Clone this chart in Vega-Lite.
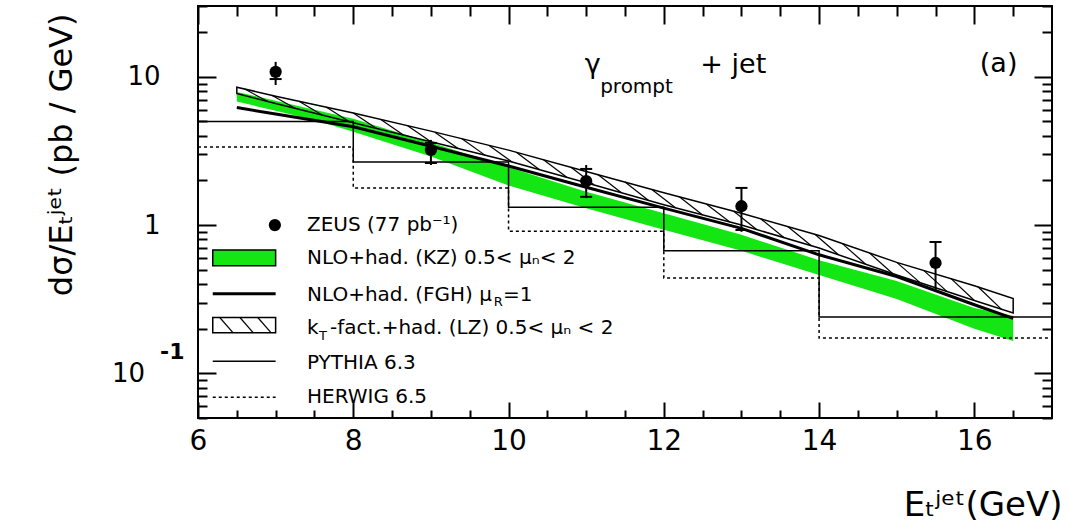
{
  "$schema": "https://vega.github.io/schema/vega-lite/v6.json",
  "width": 854,
  "height": 412,
  "autosize": {"type": "none"},
  "padding": {"left": 198, "top": 6, "right": 17, "bottom": 112},
  "background": "white",
  "config": {
    "font": "DejaVu Sans",
    "view": {"stroke": "black", "strokeWidth": 2},
    "axis": {"domain": false, "grid": false, "ticks": true, "tickOpacity": 1, "tickColor": "black", "tickWidth": 2, "labelColor": "black", "titleColor": "black", "labelFont": "DejaVu Sans", "titleFont": "DejaVu Sans", "titleFontWeight": "normal", "labelOverlap": false, "labelFlush": false, "zindex": 1}
  },
  "resolve": {"axis": {"x": "independent", "y": "independent"}},
  "encoding": {
    "x": {"field": "x", "type": "quantitative", "scale": {"domain": [6, 17], "nice": false, "zero": false}, "axis": null},
    "y": {"field": "y", "type": "quantitative", "scale": {"type": "log", "domain": [0.05, 30], "nice": false}, "axis": null}
  },
  "layer": [
    {
      "data": {"values": [
        {"x": 6.5, "y": 6.8, "y2": 7.9}, {"x": 7.0, "y": 5.9, "y2": 6.9}, {"x": 7.5, "y": 5.1, "y2": 6.0},
        {"x": 8.0, "y": 4.25, "y2": 5.2}, {"x": 9.0, "y": 2.9, "y2": 3.6}, {"x": 10.0, "y": 1.85, "y2": 2.45},
        {"x": 11.0, "y": 1.3, "y2": 1.68}, {"x": 12.0, "y": 0.93, "y2": 1.2}, {"x": 13.0, "y": 0.67, "y2": 0.86},
        {"x": 14.0, "y": 0.46, "y2": 0.58}, {"x": 15.0, "y": 0.317, "y2": 0.42}, {"x": 16.0, "y": 0.2, "y2": 0.276},
        {"x": 16.5, "y": 0.165, "y2": 0.245}
      ]},
      "mark": {"type": "area", "color": "#14e614", "opacity": 1},
      "encoding": {
        "x": {"field": "x", "type": "quantitative", "scale": {"domain": [6, 17], "nice": false, "zero": false},
          "axis": {"orient": "bottom", "offset": 0, "tickSize": -16, "tickColor": "#000000", "tickWidth": 2, "tickOpacity": 1, "values": [6, 8, 10, 12, 14, 16],
            "labelExpr": "'' + datum.value", "labelFontSize": 28, "labelPadding": 25,
            "title": "Eₜʲᵉᵗ(GeV)", "titleFontSize": 34, "titleX": 864, "titleY": 97, "titleAlign": "right", "titleBaseline": "alphabetic"}},
        "y": {"field": "y", "type": "quantitative", "scale": {"type": "log", "domain": [0.05, 30], "nice": false},
          "axis": {"orient": "left", "offset": 0, "tickSize": -18, "tickColor": "#000000", "tickWidth": 2, "tickOpacity": 1, "values": [0.1, 1, 10],
            "labelExpr": "datum.value == 0.1 ? '' : (datum.value == 1 ? '1' : '10')",
            "labelFontSize": 26, "labelPadding": 56,
            "title": "dσ/Eₜʲᵉᵗ (pb / GeV)", "titleFontSize": 32, "titleX": -120, "titleY": 7, "titleAlign": "right", "titleBaseline": "bottom", "titleAngle": -90}},
        "y2": {"field": "y2"}
      }
    },
    {
      "data": {"values": [
        {"x": 6.5, "y": 7.7, "y2": 8.5}, {"x": 7, "y": 6.6, "y2": 7.4}, {"x": 8, "y": 4.9, "y2": 5.7},
        {"x": 9, "y": 3.65, "y2": 4.3}, {"x": 10, "y": 2.7, "y2": 3.2}, {"x": 11, "y": 1.93, "y2": 2.3},
        {"x": 12, "y": 1.37, "y2": 1.65}, {"x": 13, "y": 1.0, "y2": 1.2}, {"x": 14, "y": 0.7, "y2": 0.85},
        {"x": 15, "y": 0.46, "y2": 0.56}, {"x": 16, "y": 0.31, "y2": 0.39}, {"x": 16.5, "y": 0.255, "y2": 0.32}
      ]},
      "mark": {"type": "area", "fill": "white", "fillOpacity": 0, "stroke": "black", "strokeWidth": 1.5},
      "encoding": {
        "x": {"field": "x", "type": "quantitative", "scale": {"domain": [6, 17], "nice": false, "zero": false},
          "axis": {"orient": "top", "offset": 0, "tickSize": -18, "tickColor": "#000000", "tickWidth": 2, "tickOpacity": 1, "values": [6, 8, 10, 12, 14, 16], "labels": false, "title": null}},
        "y": {"field": "y", "type": "quantitative", "scale": {"type": "log", "domain": [0.05, 30], "nice": false},
          "axis": {"orient": "right", "offset": 0, "tickSize": -18, "tickColor": "#000000", "tickWidth": 2, "tickOpacity": 1, "values": [0.1, 1, 10], "labels": false, "title": null}},
        "y2": {"field": "y2"}
      }
    },
    {
      "data": {"values": [
        {"x": 6.6, "y": 8.26, "x2": 6.9, "y2": 6.81}, {"x": 6.95, "y": 7.5, "x2": 7.25, "y2": 6.13},
        {"x": 7.3, "y": 6.84, "x2": 7.6, "y2": 5.52}, {"x": 7.65, "y": 6.25, "x2": 7.95, "y2": 4.97},
        {"x": 8.0, "y": 5.7, "x2": 8.3, "y2": 4.48}, {"x": 8.35, "y": 5.16, "x2": 8.65, "y2": 4.04},
        {"x": 8.7, "y": 4.68, "x2": 9.0, "y2": 3.65}, {"x": 9.05, "y": 4.23, "x2": 9.35, "y2": 3.28},
        {"x": 9.4, "y": 3.82, "x2": 9.7, "y2": 2.95}, {"x": 9.75, "y": 3.44, "x2": 10.05, "y2": 2.65},
        {"x": 10.1, "y": 3.1, "x2": 10.4, "y2": 2.36}, {"x": 10.45, "y": 2.76, "x2": 10.75, "y2": 2.1},
        {"x": 10.8, "y": 2.46, "x2": 11.1, "y2": 1.87}, {"x": 11.15, "y": 2.19, "x2": 11.45, "y2": 1.66},
        {"x": 11.5, "y": 1.95, "x2": 11.8, "y2": 1.47}, {"x": 11.85, "y": 1.73, "x2": 12.15, "y2": 1.31},
        {"x": 12.2, "y": 1.55, "x2": 12.5, "y2": 1.17}, {"x": 12.55, "y": 1.38, "x2": 12.85, "y2": 1.05},
        {"x": 12.9, "y": 1.24, "x2": 13.2, "y2": 0.931}, {"x": 13.25, "y": 1.1, "x2": 13.55, "y2": 0.822},
        {"x": 13.6, "y": 0.975, "x2": 13.9, "y2": 0.725}, {"x": 13.95, "y": 0.864, "x2": 14.25, "y2": 0.63},
        {"x": 14.3, "y": 0.75, "x2": 14.6, "y2": 0.544}, {"x": 14.65, "y": 0.648, "x2": 14.95, "y2": 0.47},
        {"x": 15.0, "y": 0.56, "x2": 15.3, "y2": 0.409}, {"x": 15.35, "y": 0.493, "x2": 15.65, "y2": 0.356},
        {"x": 15.7, "y": 0.435, "x2": 16.0, "y2": 0.31}, {"x": 16.05, "y": 0.382, "x2": 16.35, "y2": 0.27},
        {"x": 6.28, "y": 0.238, "x2": 6.45, "y2": 0.188}, {"x": 6.54, "y": 0.238, "x2": 6.71, "y2": 0.188},
        {"x": 6.77, "y": 0.238, "x2": 6.94, "y2": 0.188}
      ]},
      "mark": {"type": "rule", "color": "black", "strokeWidth": 1.2},
      "encoding": {
        "x": {"field": "x", "type": "quantitative", "scale": {"domain": [6, 17], "nice": false, "zero": false},
          "axis": {"orient": "bottom", "offset": 0, "tickSize": -8, "tickColor": "#000000", "tickWidth": 2, "tickOpacity": 1, "values": [6.5, 7, 7.5, 8.5, 9, 9.5, 10.5, 11, 11.5, 12.5, 13, 13.5, 14.5, 15, 15.5, 16.5], "labels": false, "title": null}},
        "y": {"field": "y", "type": "quantitative", "scale": {"type": "log", "domain": [0.05, 30], "nice": false},
          "axis": {"orient": "left", "offset": 0, "tickSize": -9, "tickColor": "#000000", "tickWidth": 2, "tickOpacity": 1, "values": [0.05, 0.06, 0.07, 0.08, 0.09, 0.2, 0.3, 0.4, 0.5, 0.6, 0.7, 0.8, 0.9, 2, 3, 4, 5, 6, 7, 8, 9, 20, 30], "labels": false, "title": null}},
        "x2": {"field": "x2"},
        "y2": {"field": "y2"}
      }
    },
    {
      "data": {"values": [
        {"x": 6.5, "y": 6.2}, {"x": 7, "y": 5.6}, {"x": 8, "y": 4.6}, {"x": 9, "y": 3.4}, {"x": 10, "y": 2.5},
        {"x": 11, "y": 1.8}, {"x": 12, "y": 1.3}, {"x": 13, "y": 0.95}, {"x": 14, "y": 0.63}, {"x": 15, "y": 0.45},
        {"x": 16, "y": 0.29}, {"x": 16.5, "y": 0.235}
      ]},
      "mark": {"type": "line", "color": "black", "strokeWidth": 3},
      "encoding": {
        "x": {"field": "x", "type": "quantitative", "scale": {"domain": [6, 17], "nice": false, "zero": false},
          "axis": {"orient": "top", "offset": 0, "tickSize": -10, "tickColor": "#000000", "tickWidth": 2, "tickOpacity": 1, "values": [6.5, 7, 7.5, 8.5, 9, 9.5, 10.5, 11, 11.5, 12.5, 13, 13.5, 14.5, 15, 15.5, 16.5], "labels": false, "title": null}},
        "y": {"field": "y", "type": "quantitative", "scale": {"type": "log", "domain": [0.05, 30], "nice": false},
          "axis": {"orient": "right", "offset": 0, "tickSize": -10, "tickColor": "#000000", "tickWidth": 2, "tickOpacity": 1, "values": [0.05, 0.06, 0.07, 0.08, 0.09, 0.2, 0.3, 0.4, 0.5, 0.6, 0.7, 0.8, 0.9, 2, 3, 4, 5, 6, 7, 8, 9, 20, 30], "labels": false, "title": null}}
      }
    },
    {
      "data": {"values": [
        {"x": 6, "y": 5.0}, {"x": 8, "y": 2.66}, {"x": 10, "y": 1.32}, {"x": 12, "y": 0.67}, {"x": 14, "y": 0.24}, {"x": 17, "y": 0.24}
      ]},
      "mark": {"type": "line", "color": "black", "strokeWidth": 1.5, "interpolate": "step-after"}
    },
    {
      "data": {"values": [
        {"x": 6, "y": 3.36}, {"x": 8, "y": 1.78}, {"x": 10, "y": 0.91}, {"x": 12, "y": 0.44}, {"x": 14, "y": 0.173}, {"x": 17, "y": 0.173}
      ]},
      "mark": {"type": "line", "color": "black", "strokeWidth": 1.5, "strokeDash": [3, 3], "interpolate": "step-after"}
    },
    {
      "data": {"values": [
        {"x": 7, "y": 10.8, "lo": 8.8, "hi": 12.6}, {"x": 9, "y": 3.21, "lo": 2.54, "hi": 3.75},
        {"x": 11, "y": 1.98, "lo": 1.52, "hi": 2.54}, {"x": 13, "y": 1.34, "lo": 0.9, "hi": 1.78},
        {"x": 15.5, "y": 0.555, "lo": 0.365, "hi": 0.769}
      ]},
      "layer": [
        {"mark": {"type": "rule", "color": "black", "strokeWidth": 2}, "encoding": {"y": {"field": "lo", "type": "quantitative"}, "y2": {"field": "hi"}}},
        {"mark": {"type": "point", "filled": true, "color": "black", "opacity": 1, "size": 150, "shape": "circle"}}
      ]
    },
    {
      "data": {"values": [
        {"x": 7, "y": 9.65}, {"x": 9, "y": 3.58}, {"x": 9, "y": 2.62}, {"x": 11, "y": 2.39}, {"x": 11, "y": 1.55},
        {"x": 13, "y": 1.78}, {"x": 13, "y": 0.926}, {"x": 15.5, "y": 0.769}
      ]},
      "mark": {"type": "tick", "orient": "horizontal", "color": "black", "size": 12, "thickness": 2, "opacity": 1}
    },
    {
      "data": {"values": [{"x": 6.99, "y": 1.0}]},
      "mark": {"type": "point", "filled": true, "color": "black", "opacity": 1, "size": 150, "shape": "circle"}
    },
    {
      "data": {"values": [{"x": 6.19, "x2": 7.0, "y": 0.531, "y2": 0.679}]},
      "mark": {"type": "rect", "fill": "#14e614", "stroke": "black", "strokeWidth": 1.5},
      "encoding": {"x2": {"field": "x2"}, "y2": {"field": "y2"}}
    },
    {
      "data": {"values": [{"x": 6.19, "x2": 7.0, "y": 0.188, "y2": 0.238}]},
      "mark": {"type": "rect", "fill": "white", "fillOpacity": 0, "stroke": "black", "strokeWidth": 1.5},
      "encoding": {"x2": {"field": "x2"}, "y2": {"field": "y2"}}
    },
    {
      "data": {"values": [{"x": 6.19, "x2": 7.0, "y": 0.344}]},
      "mark": {"type": "rule", "color": "black", "strokeWidth": 3},
      "encoding": {"x2": {"field": "x2"}}
    },
    {
      "data": {"values": [{"x": 6.19, "x2": 7.0, "y": 0.1205}]},
      "mark": {"type": "rule", "color": "black", "strokeWidth": 1.5},
      "encoding": {"x2": {"field": "x2"}}
    },
    {
      "data": {"values": [{"x": 6.19, "x2": 7.0, "y": 0.069}]},
      "mark": {"type": "rule", "color": "black", "strokeWidth": 1.5, "strokeDash": [3, 3]},
      "encoding": {"x2": {"field": "x2"}}
    },
    {
      "data": {"values": [
        {"x": 7.404, "y": 1.0, "t": "ZEUS (77 pb⁻¹)"},
        {"x": 7.404, "y": 0.6, "t": "NLO+had. (KZ) 0.5< μₙ< 2"},
        {"x": 7.404, "y": 0.337, "t": "NLO+had. (FGH)  μ"},
        {"x": 9.93, "y": 0.337, "t": "=1"},
        {"x": 7.404, "y": 0.202, "t": "k"},
        {"x": 7.70, "y": 0.202, "t": "-fact.+had. (LZ)  0.5< μₙ < 2"},
        {"x": 7.404, "y": 0.1175, "t": "PYTHIA 6.3"},
        {"x": 7.404, "y": 0.0692, "t": "HERWIG 6.5"}
      ]},
      "mark": {"type": "text", "align": "left", "baseline": "middle", "fontSize": 20, "color": "black"},
      "encoding": {"text": {"field": "t"}}
    },
    {
      "data": {"values": [
        {"x": 9.81, "y": 0.303, "t": "R"},
        {"x": 7.56, "y": 0.179, "t": "T"}
      ]},
      "mark": {"type": "text", "align": "left", "baseline": "middle", "fontSize": 13, "color": "black"},
      "encoding": {"text": {"field": "t"}}
    },
    {
      "data": {"values": [
        {"x": 10.98, "y": 10.6, "t": "γ"},
        {"x": 12.47, "y": 10.6, "t": "+ jet"},
        {"x": 16.07, "y": 10.8, "t": "(a)"}
      ]},
      "mark": {"type": "text", "align": "left", "baseline": "alphabetic", "fontSize": 27, "color": "black"},
      "encoding": {"text": {"field": "t"}}
    },
    {
      "data": {"values": [{"x": 11.18, "y": 7.77, "t": "prompt"}]},
      "mark": {"type": "text", "align": "left", "baseline": "alphabetic", "fontSize": 20, "color": "black"},
      "encoding": {"text": {"field": "t"}}
    },
    {
      "data": {"values": [{"x": 6, "y": 0.1, "t": "10"}]},
      "mark": {"type": "text", "align": "right", "baseline": "middle", "fontSize": 26, "color": "black", "dx": -53, "dy": 1},
      "encoding": {"text": {"field": "t"}}
    },
    {
      "data": {"values": [{"x": 6, "y": 0.1, "t": "-1"}]},
      "mark": {"type": "text", "align": "left", "baseline": "middle", "fontSize": 22, "fontWeight": "bold", "color": "black", "dx": -38, "dy": -21},
      "encoding": {"text": {"field": "t"}}
    }
  ]
}
